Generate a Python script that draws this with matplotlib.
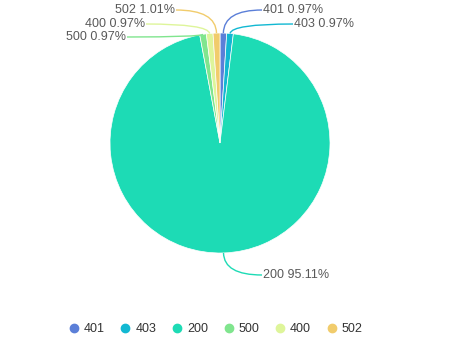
import matplotlib
matplotlib.use("Agg")
import matplotlib.pyplot as plt
import numpy as np
from matplotlib.path import Path
from matplotlib.patches import PathPatch
from matplotlib.lines import Line2D

categories = ["401", "403", "200", "500", "400", "502"]
values = [0.97, 0.97, 95.11, 0.97, 0.97, 1.01]
pct_labels = ["0.97%", "0.97%", "95.11%", "0.97%", "0.97%", "1.01%"]
colors = ["#5b7fd8", "#12b8d2", "#1ddbb5", "#80e58e", "#def59a", "#f1cc6c"]

plt.rcParams["font.family"] = ["Liberation Sans", "DejaVu Sans"]

W, H = 451, 351
fig = plt.figure(figsize=(W / 100, H / 100), dpi=100)
ax = fig.add_axes([0, 0, 1, 1])

cx, cy, R = 220, H - 143, 110
wedges, _ = ax.pie(values, colors=colors, startangle=90, counterclock=False,
                   center=(cx, cy), radius=R, frame=True,
                   wedgeprops=dict(linewidth=0.5, edgecolor="white"))
ax.set_xlim(0, W)
ax.set_ylim(0, H)
ax.set_aspect("equal")
ax.axis("off")

# label anchor positions (pixel, from top) and alignment
label_pos = {
    "401": (263, 10, "left"),
    "403": (294, 24, "left"),
    "200": (263, 275, "left"),
    "500": (126, 37, "right"),
    "400": (145, 24, "right"),
    "502": (175, 10, "right"),
}
text_color = "#595959"
for w, cat, pct in zip(wedges, categories, pct_labels):
    mid = np.deg2rad((w.theta1 + w.theta2) / 2)
    sx, sy = cx + R * np.cos(mid), cy + R * np.sin(mid)
    mx = cx + (R + 18) * np.cos(mid)
    lx, ly_top, ha = label_pos[cat]
    ly = H - ly_top
    ex = lx - 1 if ha == "left" else lx + 1
    path = Path([(sx, sy), (mx, ly), (ex, ly)], [Path.MOVETO, Path.CURVE3, Path.CURVE3])
    ax.add_patch(PathPatch(path, facecolor="none", edgecolor=w.get_facecolor(), lw=1))
    ax.text(lx, ly, f"{cat} {pct}", ha=ha, va="center", fontsize=9, color=text_color)

handles = [Line2D([0], [0], marker="o", linestyle="none", markersize=6,
                  markerfacecolor=c, markeredgecolor=c) for c in colors]
leg = ax.legend(handles, categories, loc="center", bbox_to_anchor=(216 / W, 1 - 329 / H),
                ncol=6, frameon=False, fontsize=9, handlelength=0.7, handletextpad=0.45,
                columnspacing=1.3, labelcolor="#333333")

fig.savefig("out.png", dpi=100)
